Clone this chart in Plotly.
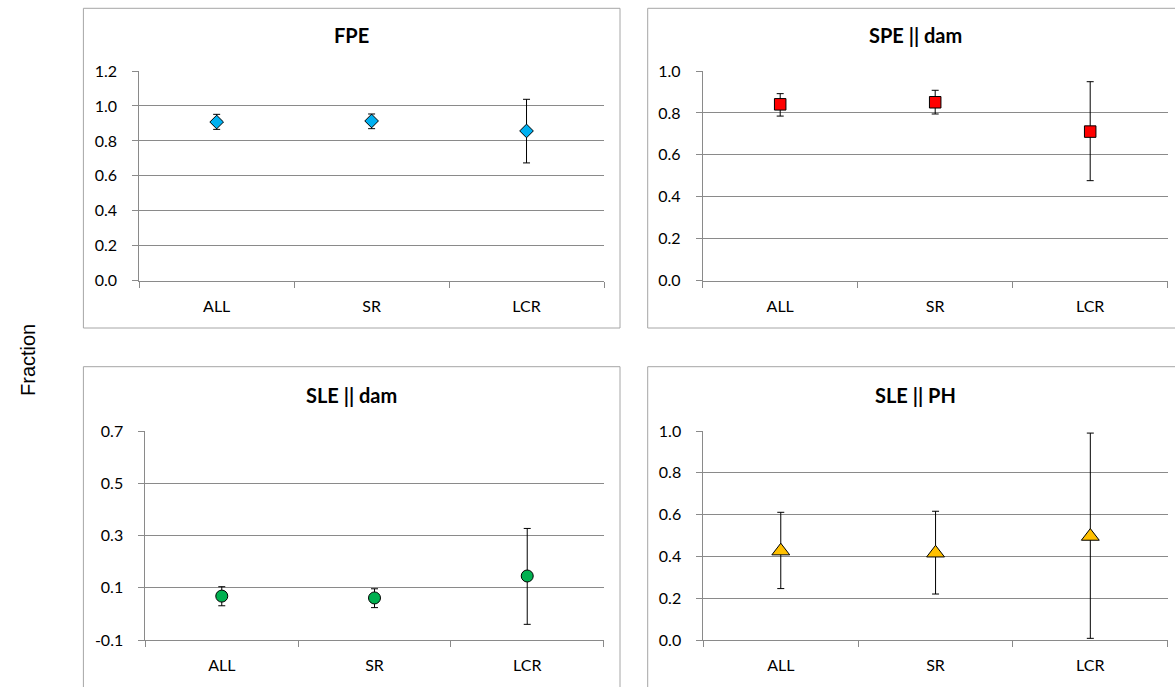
import plotly.graph_objects as go

# ---------------- data ----------------
categories = ["ALL", "SR", "LCR"]

fpe_mean = [0.908, 0.914, 0.857]
fpe_low = [0.866, 0.870, 0.674]
fpe_high = [0.952, 0.954, 1.038]

spe_mean = [0.841, 0.851, 0.711]
spe_low = [0.785, 0.795, 0.477]
spe_high = [0.892, 0.908, 0.949]

sle_dam_mean = [0.068, 0.061, 0.145]
sle_dam_low = [0.031, 0.024, -0.040]
sle_dam_high = [0.104, 0.096, 0.327]

sle_ph_mean = [0.426, 0.416, 0.496]
sle_ph_low = [0.246, 0.220, 0.008]
sle_ph_high = [0.611, 0.616, 0.990]

panel_titles = ["FPE", "SPE || dam", "SLE || dam", "SLE || PH"]

ticks_fpe = [0.0, 0.2, 0.4, 0.6, 0.8, 1.0, 1.2]
ticks_unit = [0.0, 0.2, 0.4, 0.6, 0.8, 1.0]
ticks_sle = [-0.1, 0.1, 0.3, 0.5, 0.7]

y_title = "Fraction"

# ---------------- layout helpers ----------------
W, H = 1175, 687


def fx(x):
    return x / W


def fy(y):
    return 1 - y / H


GRID = "#8a8a8a"
BORDER = "#a6a6a6"
FONT = "Lato"

fig = go.Figure()

panels = [
    dict(mean=fpe_mean, low=fpe_low, high=fpe_high, ticks=ticks_fpe,
         symbol="diamond", size=10.5, color="#00B0F0",
         xd=(139.2, 604.0), yd=(280.7, 71.0), box=(83.4, 8.3, 620.0, 328.0),
         title_xy=(351.7, 35)),
    dict(mean=spe_mean, low=spe_low, high=spe_high, ticks=ticks_unit,
         symbol="square", size=11.5, color="#FF0000",
         xd=(702.7, 1167.7), yd=(280.7, 71.0), box=(647.7, 8.3, 1184.3, 328.0),
         title_xy=(915.5, 35)),
    dict(mean=sle_dam_mean, low=sle_dam_low, high=sle_dam_high, ticks=ticks_sle,
         symbol="circle", size=12, color="#00B050",
         xd=(145.4, 603.6), yd=(640.0, 431.0), box=(83.4, 366.7, 620.0, 700.0),
         title_xy=(351.7, 395)),
    dict(mean=sle_ph_mean, low=sle_ph_low, high=sle_ph_high, ticks=ticks_unit,
         symbol="triangle-up", size=15.5, color="#FFC000",
         xd=(703.4, 1167.7), yd=(640.0, 431.0), box=(647.7, 366.7, 1184.3, 700.0),
         title_xy=(915.5, 395)),
]

shapes = []
annotations = []

for i, p in enumerate(panels):
    n = "" if i == 0 else str(i + 1)
    xa, ya = "x" + n, "y" + n
    plus = [h - m for h, m in zip(p["high"], p["mean"])]
    minus = [m - l for m, l in zip(p["mean"], p["low"])]
    fig.add_trace(go.Scatter(
        x=categories, y=p["mean"], mode="markers", xaxis=xa, yaxis=ya,
        showlegend=False,
        marker=dict(symbol=p["symbol"], size=p["size"], color=p["color"],
                    line=dict(color="black", width=1)),
        error_y=dict(type="data", symmetric=False, array=plus, arrayminus=minus,
                     color="black", thickness=1, width=3.5),
    ))
    tv = p["ticks"]
    fig.update_layout(**{
        "xaxis" + n: dict(
            domain=[fx(p["xd"][0]), fx(p["xd"][1])], anchor=ya,
            type="category", categoryorder="array", categoryarray=categories,
            range=[-0.5, 2.5], tickson="boundaries", ticks="outside", ticklen=6,
            tickcolor=GRID, showline=True, linecolor=GRID, linewidth=1,
            showgrid=False, zeroline=False, fixedrange=True, automargin=False,
            ticklabelstandoff=11,
            tickfont=dict(family=FONT, size=16, color="black"),
        ),
        "yaxis" + n: dict(
            domain=[fy(p["yd"][0]), fy(p["yd"][1])], anchor=xa,
            range=[tv[0], tv[-1]], tickvals=tv,
            ticktext=["%.1f" % v for v in tv],
            ticks="outside", ticklen=6, tickcolor=GRID, showline=True,
            linecolor=GRID, linewidth=1, showgrid=True, gridcolor=GRID,
            gridwidth=1, zeroline=False, fixedrange=True, automargin=False,
            ticklabelstandoff=12,
            tickfont=dict(family=FONT, size=16, color="black"),
        ),
    })
    x0, y0, x1, y1 = p["box"]
    shapes.append(dict(type="rect", xref="paper", yref="paper",
                       x0=fx(x0), x1=fx(x1), y0=fy(y1), y1=fy(y0),
                       line=dict(color=BORDER, width=1), layer="below"))
    annotations.append(dict(xref="paper", yref="paper",
                            x=fx(p["title_xy"][0]), y=fy(p["title_xy"][1]),
                            text=panel_titles[i], showarrow=False,
                            xanchor="center", yanchor="middle",
                            font=dict(family=FONT, size=20, color="black", weight=700)))

annotations.append(dict(xref="paper", yref="paper", x=fx(28), y=fy(360),
                        text=y_title, textangle=-90, showarrow=False,
                        xanchor="center", yanchor="middle",
                        font=dict(family="Liberation Sans, Arial", size=20, color="black")))

fig.update_layout(
    template="none",
    width=W, height=H, margin=dict(l=0, r=0, t=0, b=0, pad=0, autoexpand=False),
    paper_bgcolor="white", plot_bgcolor="white",
    shapes=shapes, annotations=annotations, showlegend=False,
)

fig.write_html("out.html", config={"displayModeBar": False})
